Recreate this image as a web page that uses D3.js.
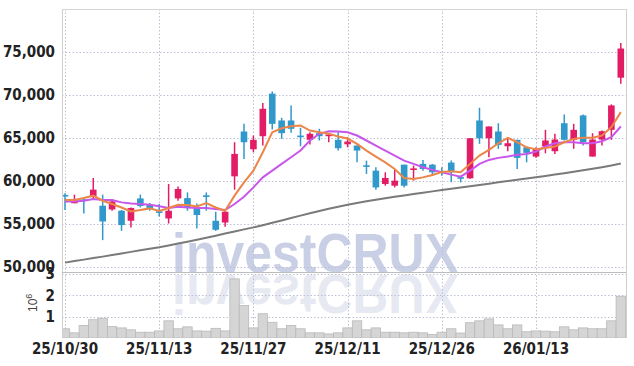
<!DOCTYPE html>
<html>
<head>
<meta charset="utf-8">
<script src="https://cdn.jsdelivr.net/npm/d3@7"></script>
<style>
  body { margin: 0; background: #fff; }
  svg text { font-family: "Liberation Sans Narrow", "Arial Narrow", "DejaVu Sans Condensed", sans-serif; }
</style>
</head>
<body>
<svg id="chart" width="634" height="366"></svg>
<script>
// trading days (yy/mm/dd)
const dates = ["25/10/30","25/10/31","25/11/03","25/11/04","25/11/05","25/11/06","25/11/07","25/11/10","25/11/11","25/11/12",
  "25/11/13","25/11/14","25/11/17","25/11/18","25/11/19","25/11/20","25/11/21","25/11/24","25/11/25","25/11/26",
  "25/11/27","25/11/28","25/12/01","25/12/02","25/12/03","25/12/04","25/12/05","25/12/08","25/12/09","25/12/10",
  "25/12/11","25/12/12","25/12/15","25/12/16","25/12/17","25/12/18","25/12/19","25/12/22","25/12/23","25/12/24",
  "25/12/26","25/12/29","25/12/30","26/01/02","26/01/05","26/01/06","26/01/07","26/01/08","26/01/09","26/01/12",
  "26/01/13","26/01/14","26/01/15","26/01/16","26/01/19","26/01/20","26/01/21","26/01/22","26/01/23","26/01/26"];

const opens = [58300,57400,57800,58160,57110,56680,56530,55360,57960,57190,
  56400,55630,57960,58000,56840,58250,55360,55160,60530,65750,
  63680,65200,70150,67030,67030,65200,64780,65550,65200,64780,
  64260,64110,61750,61190,59640,59440,61890,61300,61980,61890,
  61100,62130,60380,60300,67030,64960,65750,64030,64780,63910,
  62830,64000,63450,66710,64780,67620,62830,64810,65940,72010];
const highs = [58550,58400,57930,60340,58400,57890,56610,56910,58400,57430,
  57310,59640,59360,58660,57380,58660,56410,56610,64500,66640,
  65280,69050,70410,67340,68780,66180,65660,66060,65480,65660,
  65080,64110,62360,61580,61000,61310,61890,61780,62440,61970,
  61580,62360,60610,65000,68510,66330,66710,64960,64780,63910,
  63910,65940,65480,67730,66640,67730,65550,65860,68900,76050];
const lows = [56610,57400,56210,57780,53110,56530,54190,54580,56910,56530,
  55860,55040,57690,56530,54460,56530,54190,54660,58980,62560,
  63330,64110,65980,64890,65590,64030,64230,64700,64500,63530,
  63910,62170,60810,58980,59440,59240,59240,60030,61190,60580,
  60610,59830,59830,60250,64310,62750,63730,63450,61390,62160,
  62700,63210,63140,64700,63730,64110,62830,64110,64780,71310];
const closes = [58250,57780,57700,58980,55280,57610,54860,56840,57080,56800,
  56330,56530,59060,56910,56030,58200,54310,56410,63140,64500,
  64780,68390,66640,65550,66060,65160,65480,65200,65400,63800,
  64580,63530,61700,59240,60340,60030,59440,61420,61390,61000,
  61000,61000,60300,64960,64960,66330,64190,64380,62680,63260,
  63730,64700,64810,64780,65940,64500,64810,65780,68780,75400];

// moving averages
const ma5 = [57780,57780,58010,58280,57690,57310,56910,56450,56610,56800,
  56490,56840,57230,57190,57030,57430,56910,56530,58280,59830,
  61190,63330,65660,66130,66360,66450,65860,65660,65480,65160,
  64930,64310,63530,62830,62160,61390,60340,60230,60410,60690,
  61040,61110,61000,61980,62950,63610,64380,65010,64500,63910,
  63670,63840,64000,64500,64890,65010,65010,65280,66250,68000];
const ma10 = [57610,57610,57690,57890,57780,57780,57500,57380,57310,57230,
  57050,56840,56990,56910,56840,56840,56720,56610,57310,58160,
  59250,60410,61190,61980,62750,63530,64700,65480,65780,65750,
  65660,65280,64700,64110,63530,62950,62360,61980,61580,61280,
  61000,60730,60490,61190,61980,62440,62680,62830,63030,63140,
  63410,64000,64380,64500,64500,64380,64380,64610,65080,66330];
const maLong = [50490,50670,50840,51020,51190,51370,51555,51740,51930,52100,
  52280,52490,52710,52930,53150,53390,53620,53870,54120,54360,
  54590,54850,55120,55400,55680,55960,56230,56500,56760,57000,
  57230,57440,57630,57810,57980,58150,58310,58470,58630,58780,
  58930,59080,59230,59380,59530,59680,59830,59980,60130,60280,
  60430,60580,60740,60900,61060,61230,61410,61600,61800,62020];

// volume in millions of shares
const volumes = [0.43,0.24,0.58,0.85,0.92,0.53,0.47,0.38,0.27,0.27,
  0.33,0.80,0.43,0.52,0.33,0.32,0.45,0.33,2.75,1.51,
  0.47,1.13,0.73,0.43,0.58,0.43,0.24,0.24,0.19,0.24,
  0.47,0.80,0.38,0.47,0.27,0.27,0.24,0.27,0.24,0.16,
  0.27,0.43,0.23,0.71,0.80,0.89,0.61,0.43,0.61,0.29,
  0.33,0.32,0.29,0.52,0.38,0.47,0.43,0.43,0.80,1.94];

const priceTicks = [50000, 55000, 60000, 65000, 70000, 75000];
const volumeTicks = [1, 2, 3];
const tickDates = ["25/10/30","25/11/13","25/11/27","25/12/11","25/12/26","26/01/13"];

const plotLeft = 62, plotRight = 626, plotTop = 9, plotSplit = 272, plotBottom = 338;
const upColor = "#e31c66", downColor = "#3198cb";

const svg = d3.select("#chart");

const x = d3.scalePoint().domain(dates).range([65, 620.8]);
const step = x.step();
const y = d3.scaleLinear().domain([49400, 80000]).range([plotSplit, plotTop]);
const yv = d3.scaleLinear().domain([0, 3.07]).range([plotBottom, plotSplit]);

const defs = svg.append("defs");
defs.append("clipPath").attr("id", "clipPrice")
  .append("rect").attr("x", plotLeft).attr("y", plotTop).attr("width", plotRight - plotLeft).attr("height", plotSplit - plotTop);
defs.append("clipPath").attr("id", "clipVol")
  .append("rect").attr("x", plotLeft).attr("y", plotSplit).attr("width", plotRight - plotLeft).attr("height", plotBottom - plotSplit);
defs.append("clipPath").attr("id", "clipAll")
  .append("rect").attr("x", plotLeft).attr("y", plotTop).attr("width", plotRight - plotLeft).attr("height", plotBottom - plotTop);

// watermark and its reflection
const wm = svg.append("g").attr("clip-path", "url(#clipAll)");
wm.append("text")
  .attr("x", 172).attr("y", 272)
  .attr("textLength", 286).attr("lengthAdjust", "spacingAndGlyphs")
  .style("font-family", "'Liberation Sans', Arial, sans-serif")
  .style("font-weight", "bold").style("font-size", "55px")
  .attr("fill", "#c9cfe4")
  .text("investCRUX");
wm.append("text")
  .attr("x", 172).attr("y", 272)
  .attr("transform", "translate(0,547) scale(1,-1)")
  .attr("textLength", 286).attr("lengthAdjust", "spacingAndGlyphs")
  .style("font-family", "'Liberation Sans', Arial, sans-serif")
  .style("font-weight", "bold").style("font-size", "55px")
  .attr("fill", "#e6e9f1")
  .text("investCRUX");

// grid
const grid = svg.append("g")
  .attr("stroke", "#bcc0d4").attr("stroke-width", 1).attr("stroke-dasharray", "1.5,2");
grid.selectAll(".hp").data(priceTicks).enter().append("line")
  .attr("x1", plotLeft).attr("x2", plotRight)
  .attr("y1", d => Math.round(y(d)) + 0.5).attr("y2", d => Math.round(y(d)) + 0.5);
grid.selectAll(".hv").data(volumeTicks).enter().append("line")
  .attr("x1", plotLeft).attr("x2", plotRight)
  .attr("y1", d => Math.round(yv(d)) + 0.5).attr("y2", d => Math.round(yv(d)) + 0.5);
grid.selectAll(".vx").data(tickDates).enter().append("line")
  .attr("x1", d => Math.round(x(d)) + 0.5).attr("x2", d => Math.round(x(d)) + 0.5)
  .attr("y1", plotTop).attr("y2", plotBottom);

// volume bars
svg.append("g").attr("clip-path", "url(#clipVol)")
  .selectAll("rect").data(volumes).enter().append("rect")
  .attr("x", (d, i) => x(dates[i]) - step / 2)
  .attr("width", step)
  .attr("y", d => yv(d))
  .attr("height", d => plotBottom - yv(d))
  .attr("fill", "#d5d5d5")
  .attr("stroke", "#b9b9b9")
  .attr("stroke-width", 0.8);

const price = svg.append("g").attr("clip-path", "url(#clipPrice)");

const line = arr => d3.line()
  .x((d, i) => x(dates[i]))
  .y(d => y(d))(arr);

price.append("path").attr("d", line(maLong))
  .attr("fill", "none").attr("stroke", "#7a7a7a").attr("stroke-width", 2);

// candles
const candles = price.selectAll(".candle").data(dates).enter().append("g");
candles.append("line")
  .attr("x1", d => x(d)).attr("x2", d => x(d))
  .attr("y1", (d, i) => y(highs[i])).attr("y2", (d, i) => y(lows[i]))
  .attr("stroke", (d, i) => closes[i] >= opens[i] ? upColor : downColor)
  .attr("stroke-width", 1.5);
candles.append("rect")
  .attr("x", d => x(d) - 3.3)
  .attr("width", 6.6)
  .attr("y", (d, i) => {
    const a = y(Math.max(opens[i], closes[i]));
    const h = Math.abs(y(opens[i]) - y(closes[i]));
    return h < 1.6 ? (a + h / 2 - 0.8) : a;
  })
  .attr("height", (d, i) => Math.max(1.6, Math.abs(y(opens[i]) - y(closes[i]))))
  .attr("fill", (d, i) => closes[i] >= opens[i] ? upColor : downColor);

price.append("path").attr("d", line(ma10))
  .attr("fill", "none").attr("stroke", "#c956ea").attr("stroke-width", 2);
price.append("path").attr("d", line(ma5))
  .attr("fill", "none").attr("stroke", "#ec8548").attr("stroke-width", 2);

// frame
const frame = svg.append("g").attr("stroke-width", 1);
frame.append("line").attr("x1", plotLeft).attr("x2", plotRight).attr("y1", plotTop + 0.5).attr("y2", plotTop + 0.5).attr("stroke", "#d6d6d6");
frame.append("line").attr("x1", plotLeft + 0.5).attr("x2", plotLeft + 0.5).attr("y1", plotTop).attr("y2", plotBottom).attr("stroke", "#cfcfcf");
frame.append("line").attr("x1", plotRight + 0.5).attr("x2", plotRight + 0.5).attr("y1", plotTop).attr("y2", plotBottom).attr("stroke", "#cfcfcf");
frame.append("line").attr("x1", plotLeft).attr("x2", plotRight).attr("y1", plotSplit + 0.5).attr("y2", plotSplit + 0.5).attr("stroke", "#bdbdbd");

// axis labels
const labels = svg.append("g").attr("fill", "#222").style("font-size", "15px").style("font-weight", "bold");
labels.selectAll(".py").data(priceTicks).enter().append("text")
  .attr("x", 55).attr("y", d => y(d) + 5.5)
  .attr("text-anchor", "end")
  .text(d => d3.format(",")(d));
labels.selectAll(".vy").data(volumeTicks).enter().append("text")
  .attr("x", 55).attr("y", d => yv(d) + 5.5)
  .attr("text-anchor", "end")
  .text(d => d);
labels.selectAll(".dx").data(tickDates).enter().append("text")
  .attr("x", d => x(d)).attr("y", 354)
  .attr("text-anchor", "middle")
  .text(d => d);

const unit = svg.append("text")
  .attr("transform", "translate(37,312) rotate(-90)")
  .attr("fill", "#444")
  .style("font-family", "'Liberation Sans', Arial, sans-serif")
  .style("font-size", "12px")
  .text("10");
unit.append("tspan").attr("dy", -5).style("font-size", "9px").text("6");
</script>
</body>
</html>
